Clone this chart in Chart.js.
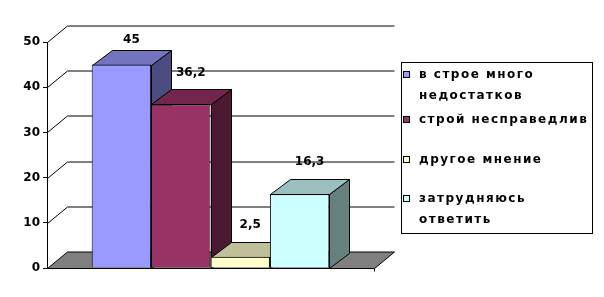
<!DOCTYPE html>
<html><head><meta charset="utf-8">
<script src="https://cdn.jsdelivr.net/npm/chart.js@4/dist/chart.umd.min.js"></script>
<style>
html,body{margin:0;padding:0;background:#fff;}
#wrap{position:relative;width:604px;height:297px;overflow:hidden;}
#c{position:absolute;left:0;top:0;}
#legend{position:absolute;left:401px;top:62px;width:190px;height:170px;border:1px solid #000;font:bold 12px "DejaVu Sans",sans-serif;color:#000;letter-spacing:1.5px;}
.item{position:absolute;left:0;width:190px;}
.mk{position:absolute;left:1px;width:5px;height:5px;border:1px solid #000;}
.tx{position:absolute;left:17px;width:172px;line-height:21px;white-space:normal;}
</style></head>
<body>
<div id="wrap"><canvas id="c" width="604" height="297"></canvas><div id="legend"></div></div>
<script>
const CATEGORIES = [''];
const SERIES_NAMES = ['в строе много недостатков', 'строй несправедлив', 'другое мнение', 'затрудняюсь ответить'];
const SERIES_VALUES = [45, 36.2, 2.5, 16.3];
const VALUE_LABELS = ['45', '36,2', '2,5', '16,3'];
const Y_TICKS = [0, 10, 20, 30, 40, 50];

const FRONT_COLORS = ['#9999FF', '#993366', '#FFFFCC', '#CCFFFF'];
const TOP_COLORS = ['#7373BF', '#73264C', '#BFBF99', '#99BFBF'];
const SIDE_COLORS = ['#4C4C80', '#4C1933', '#808066', '#668080'];
const LEGEND_ROW_TOP = [0.5, 46, 85.5, 125];

const FONT = '"DejaVu Sans", sans-serif';
const DX = 20, DY = -15, WDX = 20, WDY = -16.5;

function poly(ctx, pts) {
  ctx.beginPath();
  ctx.moveTo(pts[0][0], pts[0][1]);
  for (let i = 1; i < pts.length; i++) ctx.lineTo(pts[i][0], pts[i][1]);
  ctx.closePath();
  ctx.fill();
  ctx.stroke();
}
const al = v => Math.round(v) + 0.5;

const threeD = {
  id: 'threeD',
  beforeDatasetsDraw(chart) {
    const ctx = chart.ctx, a = chart.chartArea, y = chart.scales.y;
    ctx.save();
    ctx.lineWidth = 1;
    ctx.strokeStyle = '#000';
    const yb = al(y.getPixelForValue(0));
    const L = al(a.left), R = al(a.right);
    ctx.fillStyle = '#808080';
    poly(ctx, [[L, yb], [R, yb], [R + WDX, yb + WDY], [L + WDX, yb + WDY]]);
    Y_TICKS.forEach(v => {
      if (v === 0) return;
      const py = al(y.getPixelForValue(v));
      ctx.beginPath();
      ctx.moveTo(L, py);
      ctx.lineTo(L + WDX, py + WDY);
      ctx.lineTo(R + WDX, py + WDY);
      ctx.stroke();
    });
    ctx.beginPath();
    ctx.moveTo(R, yb); ctx.lineTo(R, yb + 3); ctx.stroke();
    chart.data.datasets.forEach((ds, i) => {
      const el = chart.getDatasetMeta(i).data[0];
      const l = al(el.x - el.width / 2), r = al(el.x + el.width / 2), t = al(el.y), b = al(el.base);
      ctx.fillStyle = SIDE_COLORS[i];
      poly(ctx, [[r, t], [r + DX, t + DY], [r + DX, b + DY], [r, b]]);
      ctx.fillStyle = TOP_COLORS[i];
      poly(ctx, [[l, t], [r, t], [r + DX, t + DY], [l + DX, t + DY]]);
    });
    ctx.restore();
  },
  afterDatasetsDraw(chart) {
    const ctx = chart.ctx;
    ctx.save();
    ctx.font = 'bold 12px ' + FONT;
    ctx.fillStyle = '#000';
    ctx.textAlign = 'center';
    ctx.textBaseline = 'middle';
    chart.data.datasets.forEach((ds, i) => {
      const el = chart.getDatasetMeta(i).data[0];
      let ly = el.y + DY - 17;
      if (ly < 40) ly = 40;
      ctx.fillText(VALUE_LABELS[i], el.x + DX / 2, ly);
    });
    ctx.restore();
  }
};

new Chart(document.getElementById('c'), {
  type: 'bar',
  data: {
    labels: CATEGORIES,
    datasets: SERIES_NAMES.map((n, i) => ({
      label: n,
      data: [SERIES_VALUES[i]],
      backgroundColor: FRONT_COLORS[i],
      borderColor: '#000',
      borderWidth: 1,
      categoryPercentage: 0.7266,
      barPercentage: 1
    }))
  },
  options: {
    responsive: false,
    animation: false,
    layout: { padding: { left: 0, right: 230, top: 42, bottom: 29 } },
    plugins: { legend: { display: false }, tooltip: { enabled: false } },
    scales: {
      x: { display: false },
      y: {
        min: 0, max: 50,
        afterFit(s) { s.width = 47; },
        afterBuildTicks(s) { s.ticks = Y_TICKS.map(v => ({ value: v })); },
        ticks: { color: '#000', font: { family: FONT, weight: 'bold', size: 12 }, padding: 3 },
        grid: { display: true, drawOnChartArea: false, drawTicks: true, tickLength: 4, color: '#000' },
        border: { display: true, color: '#000' }
      }
    }
  },
  plugins: [threeD]
});

const leg = document.getElementById('legend');
SERIES_NAMES.forEach((n, i) => {
  const it = document.createElement('div');
  it.className = 'item';
  it.style.top = LEGEND_ROW_TOP[i] + 'px';
  const mk = document.createElement('div');
  mk.className = 'mk';
  mk.style.top = '7px';
  mk.style.background = FRONT_COLORS[i];
  const tx = document.createElement('div');
  tx.className = 'tx';
  tx.textContent = n;
  it.appendChild(mk); it.appendChild(tx);
  leg.appendChild(it);
});
</script>
</body></html>
